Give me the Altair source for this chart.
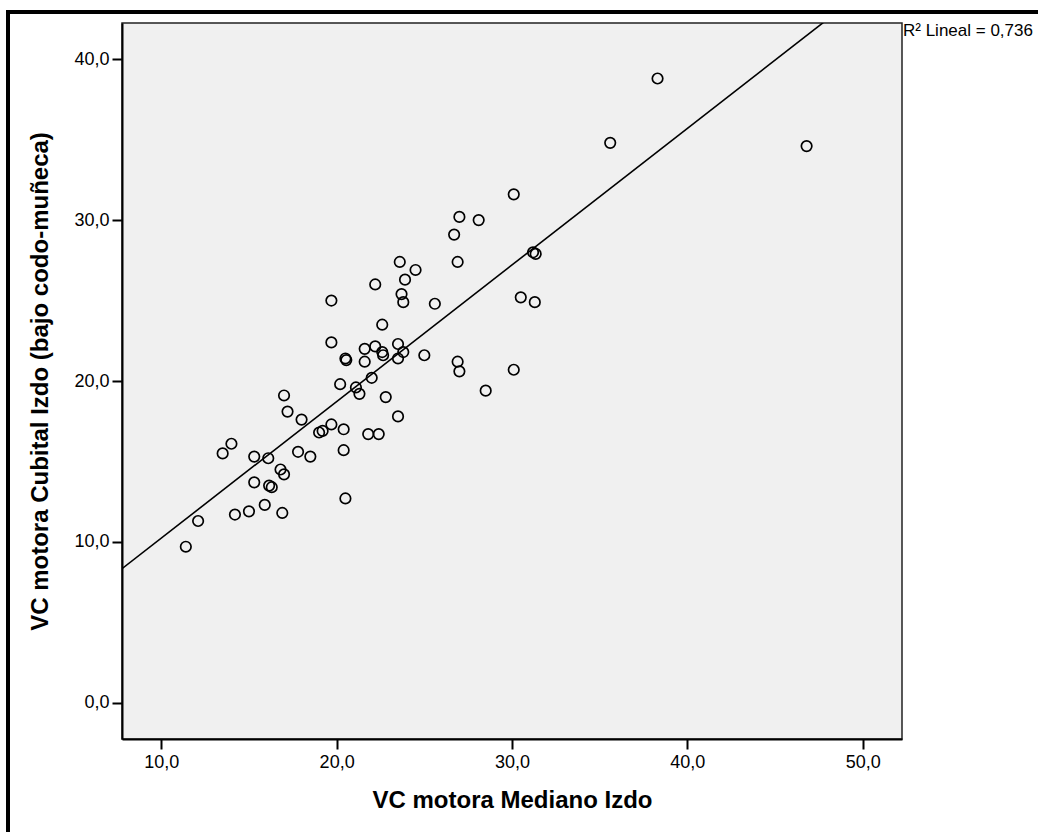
import altair as alt
import pandas as pd

# VC motora Mediano Izdo (x) and VC motora Cubital Izdo (y)
mediano = [11.4, 12.1, 14.2, 15.0, 15.9, 16.9, 15.3, 16.15, 16.3, 16.8,
           17.0, 13.5, 14.0, 15.3, 16.1, 17.8, 18.5, 20.5, 20.4, 19.0,
           19.2, 19.7, 20.4, 21.8, 22.4, 23.5, 22.8, 21.3, 21.1, 20.2,
           17.0, 17.2, 18.0, 22.0, 30.1, 27.0, 28.1, 26.7, 23.6, 26.9,
           24.5, 23.9, 22.2, 31.2, 31.35, 19.7, 23.7, 23.8, 25.6, 30.5,
           31.3, 22.6, 19.7, 20.5, 20.55, 21.6, 21.6, 22.2, 22.6, 22.65,
           23.5, 23.8, 23.5, 25.0, 26.9, 27.0, 30.1, 28.5, 38.3, 35.6,
           46.8]
cubital = [9.7, 11.3, 11.7, 11.9, 12.3, 11.8, 13.7, 13.5, 13.4, 14.5,
           14.2, 15.5, 16.1, 15.3, 15.2, 15.6, 15.3, 12.7, 15.7, 16.8,
           16.9, 17.3, 17.0, 16.7, 16.7, 17.8, 19.0, 19.2, 19.6, 19.8,
           19.1, 18.1, 17.6, 20.2, 31.6, 30.2, 30.0, 29.1, 27.4, 27.4,
           26.9, 26.3, 26.0, 28.0, 27.9, 25.0, 25.4, 24.9, 24.8, 25.2,
           24.9, 23.5, 22.4, 21.4, 21.3, 22.0, 21.2, 22.15, 21.8, 21.6,
           22.3, 21.8, 21.4, 21.6, 21.2, 20.6, 20.7, 19.4, 38.8, 34.8,
           34.6]

x_ticks = [10, 20, 30, 40, 50]
y_ticks = [0, 10, 20, 30, 40]
x_domain = [7.76, 52.24]
y_domain = [-2.25, 42.25]
x_title = "VC motora Mediano Izdo"
y_title = "VC motora Cubital Izdo (bajo codo-muñeca)"
r2_label = ["R² Lineal = 0,736"]

FONT = "Liberation Sans"
W, H = 780, 716

df = pd.DataFrame({"mediano": mediano, "cubital": cubital})
xs = alt.Scale(domain=x_domain, nice=False, zero=False)
ys = alt.Scale(domain=y_domain, nice=False, zero=False)
lab = "replace(format(datum.value, '.1f'), '.', ',')"

points = alt.Chart(df).mark_point(
    shape="circle", filled=False, size=110, stroke="black",
    strokeWidth=1.7, opacity=1
).encode(
    x=alt.X("mediano:Q", scale=xs,
            axis=alt.Axis(values=x_ticks, title=x_title, labelExpr=lab,
                          grid=False, titlePadding=17, labelPadding=4)),
    y=alt.Y("cubital:Q", scale=ys,
            axis=alt.Axis(values=y_ticks, title=y_title, labelExpr=lab,
                          grid=False, titlePadding=21, labelPadding=3)),
)

line = alt.Chart(df).transform_regression(
    "mediano", "cubital", extent=x_domain
).mark_line(color="black", strokeWidth=1.6, clip=True).encode(
    x=alt.X("mediano:Q", scale=xs),
    y=alt.Y("cubital:Q", scale=ys),
)

r2 = alt.Chart(pd.DataFrame({"label": r2_label})).mark_text(
    align="left", baseline="middle", font=FONT, fontSize=17, color="black"
).encode(text="label:N", x=alt.value(W + 1), y=alt.value(8))

frame_df = pd.DataFrame({"a": [0]})
frame_top = alt.Chart(frame_df).mark_rule(color="black", strokeWidth=4).encode(
    x=alt.value(-116), x2=alt.value(W + 200), y=alt.value(-11))
frame_left = alt.Chart(frame_df).mark_rule(color="black", strokeWidth=4).encode(
    x=alt.value(-114), y=alt.value(-13), y2=alt.value(H + 200))

chart = alt.layer(frame_top, frame_left, line, points, r2).properties(
    width=W, height=H,
    autosize=alt.AutoSizeParams(type="none"),
    padding={"left": 122, "top": 23, "right": 136, "bottom": 93},
    background="white",
).configure_view(
    fill="#F0F0F0", stroke="#222222", strokeWidth=1.5
).configure_axis(
    domainColor="black", domainWidth=2, tickColor="black", tickWidth=2,
    tickSize=10, labelFont=FONT, labelFontSize=18, labelColor="black",
    titleFont=FONT, titleFontSize=24, titleFontWeight="bold", titleColor="black",
)

chart.save("out.html", embed_options={"renderer": "svg", "actions": False})
